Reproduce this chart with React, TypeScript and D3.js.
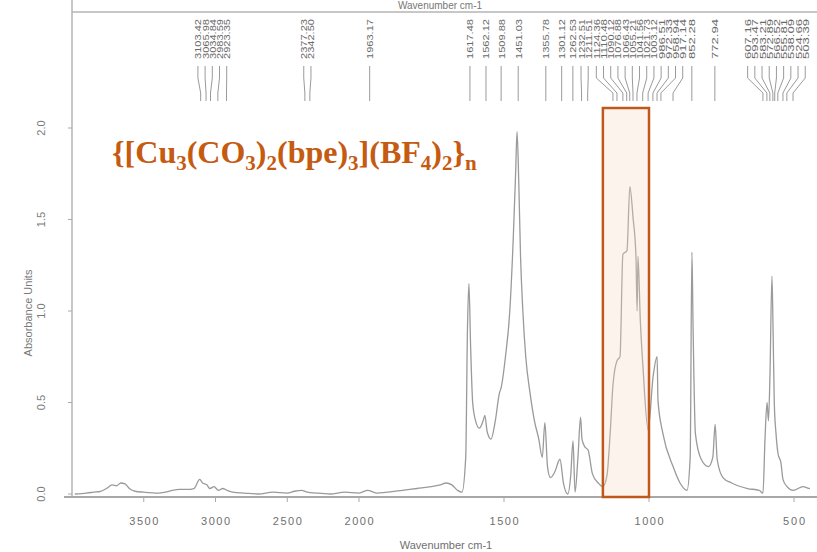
import * as d3 from "d3";

// spectrum: wavenumber (cm-1) and absorbance
const wavenumbers = [
  3980, 3900, 3850, 3800, 3760, 3720, 3690, 3660, 3630, 3600, 3560, 3500, 3400, 3350, 3300, 3250,
  3200, 3150, 3110, 3090, 3060, 3040, 3010, 2980, 2950, 2920, 2880, 2800, 2700, 2600, 2500, 2450,
  2400, 2360, 2300, 2200, 2100, 2000, 1970, 1940, 1900, 1850, 1800, 1750, 1720, 1700, 1680, 1660,
  1645, 1632, 1626, 1621, 1615, 1608, 1598, 1585, 1572, 1566, 1558, 1545, 1530, 1516, 1510, 1495,
  1480, 1468, 1460, 1455, 1449, 1443, 1435, 1425, 1410, 1395, 1380, 1368, 1359, 1350, 1340, 1325,
  1307, 1295, 1280, 1270, 1262, 1255, 1245, 1236, 1231, 1222, 1210, 1195, 1175, 1159, 1145, 1134,
  1124, 1110, 1100, 1090, 1076, 1066, 1055, 1045, 1041, 1038, 1030, 1021, 1003, 986, 972, 969,
  952, 917, 893, 869, 858, 852, 848, 840, 820, 795, 780, 772, 765, 745, 715, 660, 620, 607, 600, 593,
  588, 583, 576, 572, 568, 562, 555, 545, 538, 524, 503, 469, 445, 434, 420,
];
const absorbance = [
  0.0, 0.005, 0.01, 0.015, 0.03, 0.05, 0.045, 0.06, 0.055, 0.03, 0.015, 0.01, 0.005, 0.01, 0.02, 0.025,
  0.025, 0.03, 0.08, 0.06, 0.05, 0.03, 0.04, 0.02, 0.03, 0.02, 0.01, 0.005, 0.0, 0.01, 0.005, 0.015,
  0.02, 0.01, 0.005, 0.0, 0.01, 0.005, 0.02, 0.005, 0.01, 0.02, 0.03, 0.04, 0.05, 0.06, 0.05, 0.02,
  0.01, 0.2, 0.9, 1.15, 0.8, 0.5, 0.4, 0.36, 0.4, 0.43, 0.34, 0.3, 0.4, 0.55, 0.58, 0.75,
  1.0, 1.4, 1.75, 1.98, 1.7, 1.3, 1.0, 0.75, 0.55, 0.4, 0.3, 0.2, 0.39, 0.15, 0.09, 0.12,
  0.19, 0.06, 0.0, 0.1, 0.29, 0.01, 0.2, 0.42, 0.3, 0.26, 0.24, 0.11, 0.06, 0.04, 0.1, 0.33,
  0.6, 0.73, 0.75, 1.31, 1.33, 1.68, 1.51, 1.3, 1.0, 1.3, 0.95, 0.7, 0.35, 0.64, 0.75, 0.51,
  0.33, 0.15, 0.06, 0.02, 0.2, 1.32, 0.91, 0.33, 0.19, 0.15, 0.2, 0.38, 0.19, 0.09, 0.06, 0.03, 0.02, 0.005, 0.3, 0.5,
  0.4, 0.64, 1.19, 0.88, 0.5, 0.33, 0.22, 0.17, 0.08, 0.04, 0.02, 0.04, 0.03,
];

const peakPositions = [
  3103.42, 3065.98, 3034.84, 2983.59, 2923.35, 2377.23, 2342.5, 1963.17, 1617.48, 1562.12, 1509.88,
  1451.03, 1355.78, 1301.12, 1262.53, 1232.51, 1211.51, 1124.36, 1110.48, 1090.12, 1076.88, 1066.43,
  1055.21, 1041.56, 1021.73, 1003.12, 986.51, 972.33, 958.94, 917.14, 852.28, 772.94, 607.16, 593.47,
  583.21, 572.89, 566.52, 555.81, 538.09, 524.66, 503.39,
];

const xTicks = [3500, 3000, 2500, 2000, 1500, 1000, 500];
const yTicks = [0.0, 0.5, 1.0, 1.5, 2.0];
const highlightRange = [1159, 1000];

const W = 817;
const H = 552;
const left = 72;
const top = 12;
const axisY = 497;

const x = d3.scaleLinear().domain([4000, 2000, 400]).range([left, 359, 823]);
const y = d3.scaleLinear().domain([0, 2]).range([494, 128]);

const font = "'Liberation Sans', Arial, sans-serif";
const grey = "#9a9a9a";

// spread labels so they don't collide
function spread(xs: number[], gap: number) {
  let clusters = xs.map((v) => ({ start: v, items: [v] }));
  let moved = true;
  while (moved) {
    moved = false;
    for (let i = 1; i < clusters.length; i++) {
      const a = clusters[i - 1];
      const b = clusters[i];
      const aEnd = a.start + (a.items.length - 1) * gap;
      if (b.start - aEnd < gap) {
        const items = a.items.concat(b.items);
        const mean = d3.mean(items)!;
        const start = mean - ((items.length - 1) * gap) / 2;
        clusters.splice(i - 1, 2, { start, items });
        moved = true;
        break;
      }
    }
  }
  const out: number[] = [];
  clusters.forEach((c) => c.items.forEach((_, i) => out.push(c.start + i * gap)));
  return out;
}

export default function App() {
  const pts = wavenumbers.map((w, i) => [w, absorbance[i]] as [number, number]);
  const line = d3
    .line<[number, number]>()
    .x((d) => x(d[0]))
    .y((d) => y(d[1]))
    .curve(d3.curveMonotoneX);

  const peakX = peakPositions.map((p) => x(p));
  const labelX = spread(peakX, 7.2);

  const sub = 21;
  const dy = 7;

  return (
    <svg
      width={W}
      height={H}
      style={{ position: "absolute", left: 0, top: 0, background: "#fff" }}
    >
      {/* top title */}
      <text x={440} y={9} fontFamily={font} fontSize={10} fill="#777" textAnchor="middle">
        Wavenumber cm-1
      </text>

      {/* frame */}
      <line x1={left} x2={W} y1={top} y2={top} stroke="#b5b5b5" strokeWidth={1.5} />
      <line x1={left} x2={left} y1={0} y2={axisY} stroke="#b5b5b5" strokeWidth={1.5} />
      <line x1={64} x2={W} y1={axisY} y2={axisY} stroke="#a8a8a8" strokeWidth={2} />

      {/* peak labels */}
      {peakPositions.map((p, i) => (
        <g key={p}>
          <text
            transform={`translate(${labelX[i] + 3.5},59) rotate(-90)`}
            fontFamily={font}
            fontSize={9.5}
            fill="#6a6a6a"
            textLength={40}
            lengthAdjust="spacingAndGlyphs"
          >
            {p.toFixed(2)}
          </text>
          <path
            d={`M${labelX[i]},66 L${labelX[i]},78 L${peakX[i]},93 L${peakX[i]},101`}
            fill="none"
            stroke="#9a9a9a"
            strokeWidth={1}
          />
        </g>
      ))}

      {/* y axis */}
      {yTicks.map((t) => (
        <g key={t}>
          <line x1={left - 4} x2={left} y1={y(t)} y2={y(t)} stroke="#aaa" />
          <text
            transform={`translate(${45},${y(t)}) rotate(-90)`}
            textAnchor="middle"
            fontFamily={font}
            fontSize={11}
            fill="#7a7a7a"
          >
            {t.toFixed(1)}
          </text>
        </g>
      ))}
      <text
        transform="translate(32,313) rotate(-90)"
        textAnchor="middle"
        fontFamily={font}
        fontSize={11}
        fill="#7a7a7a"
      >
        Absorbance Units
      </text>

      {/* x axis */}
      {xTicks.map((t) => (
        <g key={t}>
          <line x1={x(t)} x2={x(t)} y1={axisY} y2={axisY + 5} stroke="#aaa" />
          <text
            x={x(t)}
            y={525}
            textAnchor="middle"
            fontFamily={font}
            fontSize={11}
            fill="#6f6f6f"
            textLength={t >= 1000 ? 29 : 22}
          >
            {t}
          </text>
        </g>
      ))}
      <text x={446} y={549} textAnchor="middle" fontFamily={font} fontSize={11} fill="#6f6f6f">
        Wavenumber cm-1
      </text>

      {/* spectrum */}
      <path d={line(pts) || ""} fill="none" stroke={grey} strokeWidth={1.3} />

      {/* highlighted band */}
      <rect
        x={x(highlightRange[0])}
        y={108}
        width={x(highlightRange[1]) - x(highlightRange[0])}
        height={axisY - 108}
        fill="rgba(246, 214, 196, 0.3)"
        stroke="#c0571b"
        strokeWidth={2.5}
      />

      {/* compound formula */}
      <text
        x={112}
        y={163}
        fontFamily="'Liberation Serif', 'Times New Roman', serif"
        fontWeight="bold"
        fontSize={32}
        fill="#c55a11"
      >
        {"{[Cu"}
        <tspan fontSize={sub} dy={dy}>3</tspan>
        <tspan dy={-dy}>(CO</tspan>
        <tspan fontSize={sub} dy={dy}>3</tspan>
        <tspan dy={-dy}>)</tspan>
        <tspan fontSize={sub} dy={dy}>2</tspan>
        <tspan dy={-dy}>(bpe)</tspan>
        <tspan fontSize={sub} dy={dy}>3</tspan>
        <tspan dy={-dy}>](BF</tspan>
        <tspan fontSize={sub} dy={dy}>4</tspan>
        <tspan dy={-dy}>)</tspan>
        <tspan fontSize={sub} dy={dy}>2</tspan>
        <tspan dy={-dy}>{"}"}</tspan>
        <tspan fontSize={sub} dy={dy}>n</tspan>
      </text>
    </svg>
  );
}
